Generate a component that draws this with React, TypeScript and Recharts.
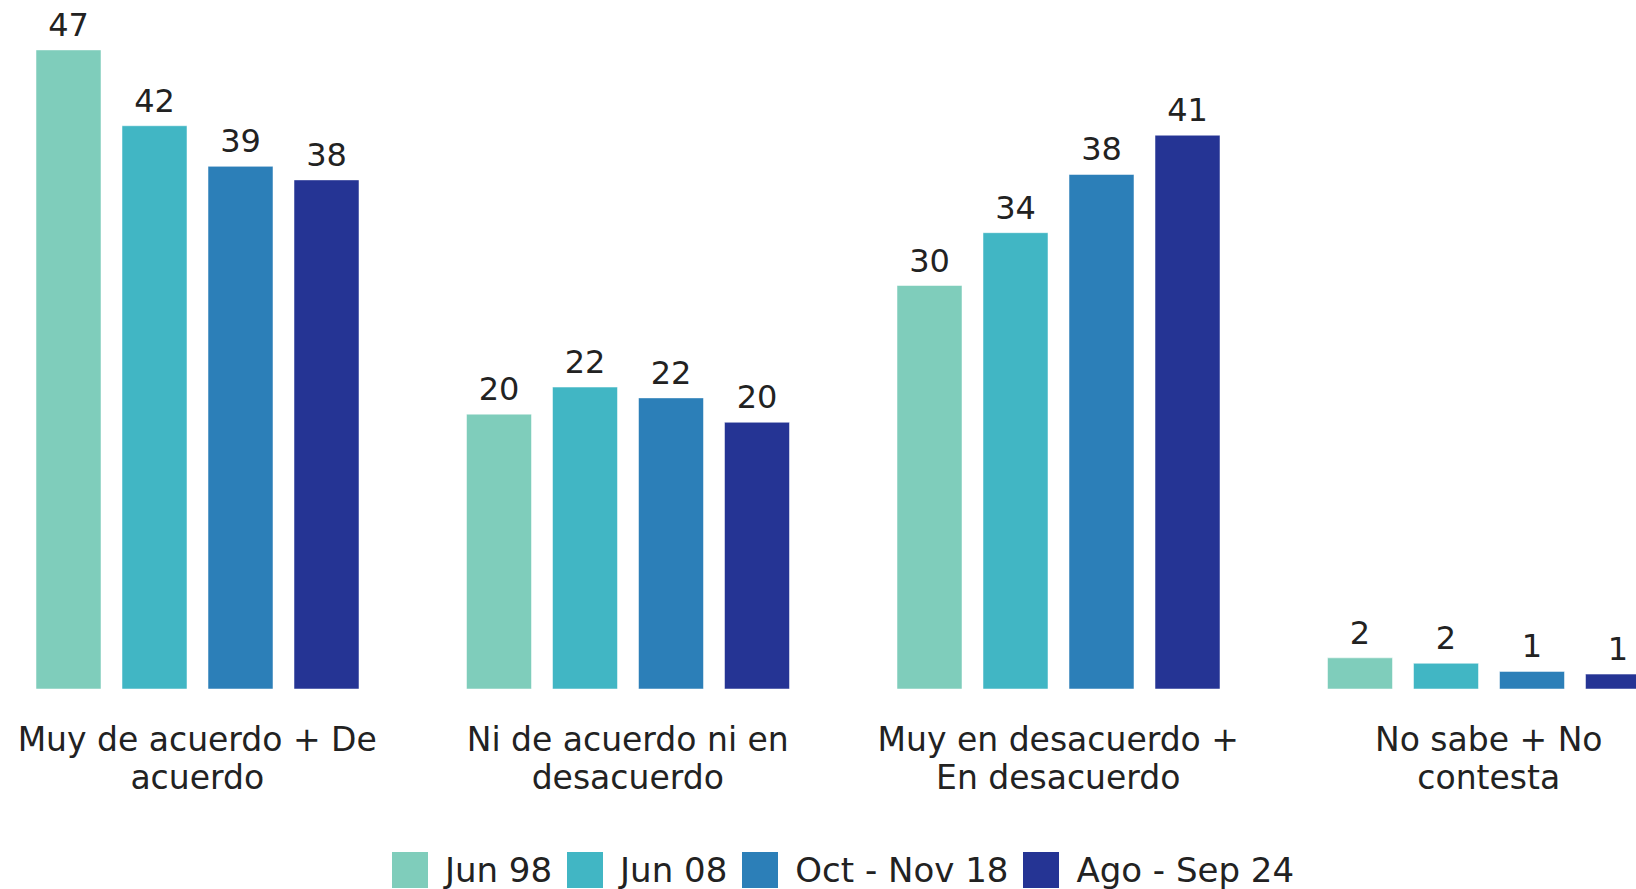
import { BarChart, Bar, XAxis, YAxis, Legend, LabelList } from 'recharts';

const categories = [
  'Muy de acuerdo + De\nacuerdo',
  'Ni de acuerdo ni en\ndesacuerdo',
  'Muy en desacuerdo +\nEn desacuerdo',
  'No sabe + No\ncontesta',
];

const jun98 = [47.2, 20.3, 29.8, 2.3];
const jun08 = [41.6, 22.3, 33.7, 1.9];
const octNov18 = [38.6, 21.5, 38.0, 1.3];
const agoSep24 = [37.6, 19.7, 40.9, 1.1];

const series = [
  { key: 'jun98', name: 'Jun 98', color: '#7fcdbb', values: jun98 },
  { key: 'jun08', name: 'Jun 08', color: '#41b6c4', values: jun08 },
  { key: 'octNov18', name: 'Oct - Nov 18', color: '#2c7fb8', values: octNov18 },
  { key: 'agoSep24', name: 'Ago - Sep 24', color: '#253494', values: agoSep24 },
];

const FONT = '"DejaVu Sans", sans-serif';
const TEXT = '#222';

const data = categories.map((name, i) => {
  const row: Record<string, string | number> = { name };
  series.forEach((s) => {
    row[s.key] = s.values[i];
  });
  return row;
});

function CategoryTick({ x, y, payload }: any) {
  const lines = String(payload.value).split('\n');
  return (
    <text x={x} y={y} textAnchor="middle" fill={TEXT} fontSize={33} fontFamily={FONT}>
      {lines.map((line, i) => (
        <tspan key={i} x={x} dy={i === 0 ? 62 : 38}>
          {line}
        </tspan>
      ))}
    </text>
  );
}

function renderLegend() {
  return (
    <div
      style={{
        display: 'flex',
        justifyContent: 'center',
        alignItems: 'center',
        height: 38,
        fontFamily: FONT,
        fontSize: 34,
        color: TEXT,
      }}
    >
      {series.map((s, i) => (
        <div
          key={s.key}
          style={{ display: 'flex', alignItems: 'center', marginRight: i < series.length - 1 ? 15 : 0 }}
        >
          <span style={{ display: 'inline-block', width: 36, height: 36, background: s.color, marginRight: 17 }} />
          <span>{s.name}</span>
        </div>
      ))}
    </div>
  );
}

export default function App() {
  return (
    <div
      style={{
        position: 'fixed',
        left: 0,
        top: 0,
        width: 1636,
        height: 889,
        overflow: 'hidden',
        background: '#fff',
      }}
    >
      <div style={{ position: 'absolute', left: -18, top: 0 }}>
        <BarChart
          width={1722}
          height={889}
          data={data}
          margin={{ top: 12, right: 0, bottom: 0, left: 0 }}
          barSize={65}
          barGap={21}
        >
          <XAxis
            dataKey="name"
            axisLine={false}
            tickLine={false}
            tickSize={0}
            tickMargin={0}
            height={162}
            interval={0}
            tick={<CategoryTick />}
          />
          <YAxis hide domain={[0, 50]} />
          <Legend verticalAlign="bottom" content={renderLegend} />
          {series.map((s) => (
            <Bar
              key={s.key}
              dataKey={s.key}
              name={s.name}
              fill={s.color}
              stroke="rgba(255,255,255,0.5)"
              strokeWidth={1}
              isAnimationActive={false}
            >
              <LabelList
                dataKey={s.key}
                position="top"
                offset={14}
                formatter={(v: any) => Math.round(Number(v))}
                fill={TEXT}
                fontSize={32}
                fontFamily={FONT}
              />
            </Bar>
          ))}
        </BarChart>
      </div>
    </div>
  );
}
